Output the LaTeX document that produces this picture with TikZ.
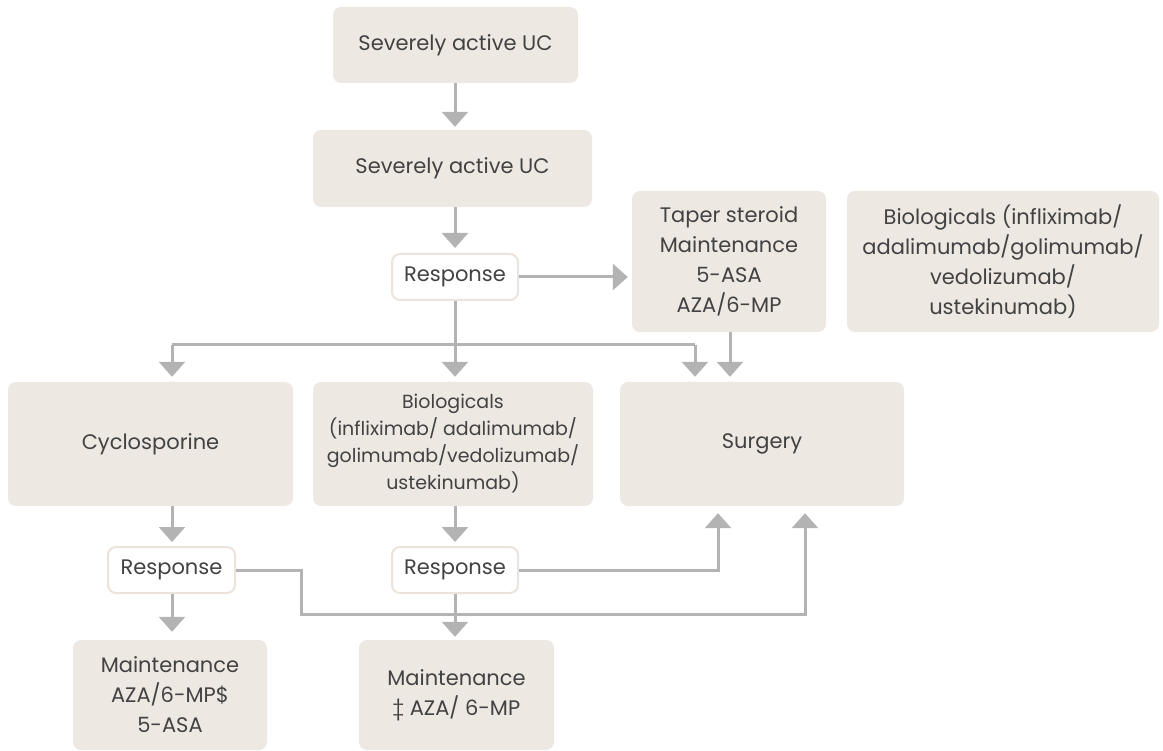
\documentclass[tikz,border=0pt]{standalone}
\usepackage{fontspec}
\setmainfont{Poppins}
\usetikzlibrary{arrows.meta,calc}
\definecolor{boxfill}{RGB}{238,232,227}
\definecolor{respborder}{RGB}{236,227,219}
\definecolor{arrowgray}{RGB}{179,179,179}
\definecolor{txt}{RGB}{66,66,66}
\begin{document}
\begin{tikzpicture}[x=1pt,y=-1pt,
  box/.style={fill=boxfill, rounded corners=8pt, align=center, text=txt, inner sep=0pt,
    font=\fontsize{21}{30}\selectfont},
  small/.style={font=\fontsize{19}{27}\selectfont},
  resp/.style={fill=white, draw=respborder, line width=2pt, rounded corners=8pt, align=center,
    text=txt, inner sep=0pt, minimum width=126pt, minimum height=46pt,
    font=\fontsize{21}{30}\selectfont},
  ln/.style={draw=arrowgray, line width=3pt},
  arr/.style={ln, -{Triangle[width=26pt,length=15pt]}}
]
\useasboundingbox (0,0) rectangle (1163,751);
% nodes
\node[box, minimum width=245pt, minimum height=76pt] (top) at (455.5,45) {Severely active UC};
\node[box, minimum width=279pt, minimum height=77pt] (sev) at (452.5,168.5) {Severely active UC};
\node[resp] (r1) at (455,277) {Response};
\node[box, minimum width=194pt, minimum height=141pt] (taper) at (729,261.5) {Taper steroid\\Maintenance\\5-ASA\\AZA/6-MP};
\node[box, minimum width=312pt, minimum height=141pt] (bioR) at (1003,261.5) {Biologicals (infliximab/\\adalimumab/golimumab/\\vedolizumab/\\ustekinumab)};
\node[box, minimum width=285pt, minimum height=124pt] (cyc) at (150.5,444) {Cyclosporine};
\node[box, small, minimum width=280pt, minimum height=124pt] (bioM) at (453,444) {Biologicals\\(infliximab/ adalimumab/\\golimumab/vedolizumab/\\ustekinumab)};
\node[box, minimum width=284pt, minimum height=124pt] (surg) at (762,444) {Surgery};
\node[resp, minimum width=127pt] (r2) at (171.5,570) {Response};
\node[resp] (r3) at (455,570) {Response};
\node[box, minimum width=194pt, minimum height=110pt] (m1) at (170,695) {Maintenance\\AZA/6-MP\$\\5-ASA};
\node[box, minimum width=195pt, minimum height=110pt] (m2) at (456.5,695) {Maintenance\\‡ AZA/ 6-MP};
% helper coordinates
\coordinate (xa) at (455,0);
\coordinate (hL) at (172,345);
\coordinate (hR) at (695,345);
\coordinate (tp) at (730,0);
\coordinate (k1) at (301,0);
\coordinate (k2) at (805,614);
\coordinate (k3) at (718,0);
% connectors
\draw[arr, shorten >=3pt] (xa |- top.south) -- (xa |- sev.north);
\draw[arr, shorten >=5pt] (xa |- sev.south) -- (r1.north);
\draw[arr, shorten >=4pt] (r1.east) -- (r1.east -| taper.west);
\draw[arr, shorten >=5pt] (r1.south) -- (r1.south |- bioM.north);
\draw[ln] (hL) -- (hR);
\draw[arr, shorten >=5pt] (hL) -- (hL |- cyc.north);
\draw[arr, shorten >=5pt] (hR) -- (hR |- surg.north);
\draw[arr, shorten >=5pt] (tp |- taper.south) -- (tp |- surg.north);
\draw[arr, shorten >=4pt] (hL |- cyc.south) -- (hL |- r2.north);
\draw[arr, shorten >=4pt] (xa |- bioM.south) -- (xa |- r3.north);
\draw[arr, shorten >=8pt] (hL |- r2.south) -- (hL |- m1.north);
\draw[arr, shorten >=3pt] (r3.south) -- (r3.south |- m2.north);
\draw[arr, shorten >=7pt] (r2.east) -- (r2.east -| k1) |- (k2) -- (k2 |- surg.south);
\draw[arr, shorten >=7pt] (r3.east) -- (r3.east -| k3) -- (k3 |- surg.south);
\end{tikzpicture}
\end{document}
